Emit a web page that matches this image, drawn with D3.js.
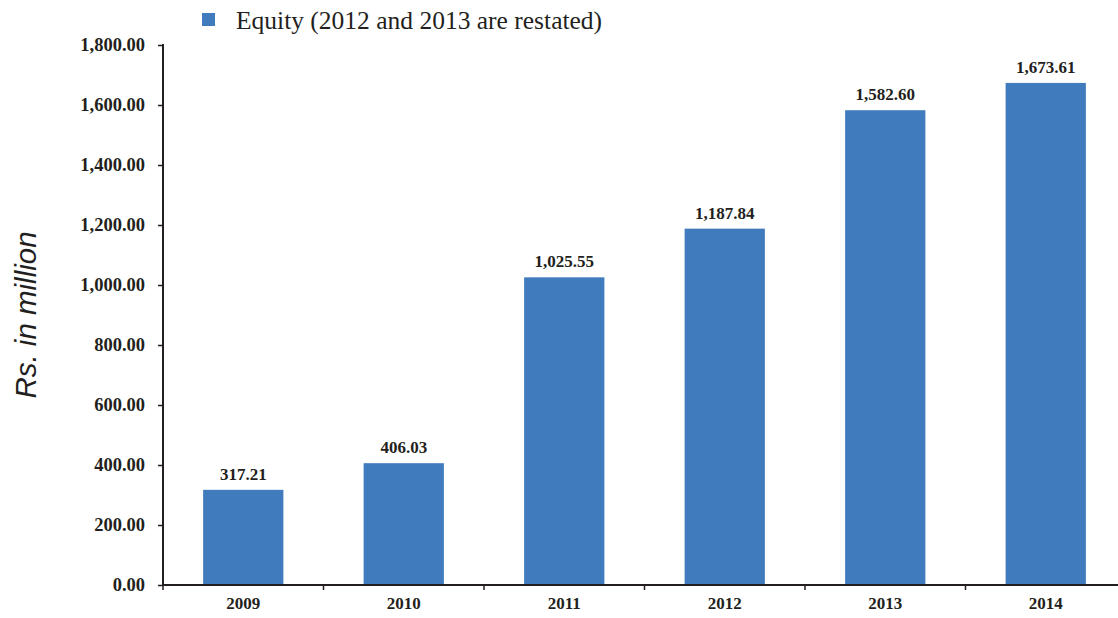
<!DOCTYPE html>
<html><head>
<meta charset="utf-8">
<script src="https://d3js.org/d3.v7.min.js"></script>
<style>
  body { margin: 0; background: #fff; }
  svg { display: block; }
  .tick text { font-family: "Liberation Serif", "Times New Roman", serif; font-weight: bold; font-size: 18.5px; fill: #231f20; }
</style>
</head>
<body>
<svg id="chart" width="1118" height="618"></svg>
<script>
// data
let years = ["2009", "2010", "2011", "2012", "2013", "2014"];
let equity = [317.21, 406.03, 1025.55, 1187.84, 1582.60, 1673.61];
let yTicks = [0, 200, 400, 600, 800, 1000, 1200, 1400, 1600, 1800];
let legendLabel = "Equity (2012 and 2013 are restated)";

let svg = d3.select("#chart");
let ink = "#231f20";
let blue = "#3f7bbd";

let plotLeft = 163, plotRight = 1126, plotTop = 45, plotBottom = 585;

let x = d3.scaleBand().domain(years).range([plotLeft, plotRight]).paddingInner(0.5).paddingOuter(0.25);
let y = d3.scaleLinear().domain([0, 1800]).range([plotBottom, plotTop]);

let fmt = d3.format(",.2f");

// bars
svg.selectAll("rect.bar")
  .data(equity)
  .enter().append("rect")
    .attr("class", "bar")
    .attr("x", (d, i) => x(years[i]))
    .attr("y", d => y(d))
    .attr("width", x.bandwidth())
    .attr("height", d => plotBottom - y(d))
    .style("fill", blue);

// value labels
svg.selectAll("text.val")
  .data(equity)
  .enter().append("text")
    .attr("class", "val")
    .attr("x", (d, i) => x(years[i]) + x.bandwidth() / 2)
    .attr("y", d => y(d) - 10)
    .attr("text-anchor", "middle")
    .style("font-family", "'Liberation Serif', serif")
    .style("font-weight", "bold")
    .style("font-size", "17px")
    .style("fill", ink)
    .text(d => fmt(d));

// y axis
let yAxis = svg.append("g")
  .attr("transform", "translate(" + plotLeft + ",0)")
  .call(d3.axisLeft(y).tickValues(yTicks).tickFormat(fmt).tickSize(5).tickPadding(13));
yAxis.select(".domain").attr("stroke", ink).attr("stroke-width", 2).attr("d", "M0," + (plotTop - 1) + "V" + plotBottom);
yAxis.selectAll(".tick line").attr("stroke", ink).attr("stroke-width", 1.5);
yAxis.selectAll(".tick text").attr("dy", "0.3em");

// x axis: ticks sit at band boundaries
let xAxis = svg.append("g")
  .attr("transform", "translate(0," + plotBottom + ")")
  .call(d3.axisBottom(x).tickSize(0).tickPadding(12));
xAxis.select(".domain").attr("stroke", ink).attr("stroke-width", 2).attr("d", "M" + plotLeft + ",0H" + plotRight);
xAxis.selectAll(".tick text").attr("dy", "0.71em").style("font-size", "17px");

let step = x.step();
let bounds = d3.range(years.length + 1).map(i => plotLeft + i * step);
svg.selectAll("line.xt")
  .data(bounds)
  .enter().append("line")
    .attr("class", "xt")
    .attr("x1", d => d).attr("x2", d => d)
    .attr("y1", plotBottom).attr("y2", plotBottom + 5)
    .attr("stroke", ink).attr("stroke-width", 1.5);

// y title
svg.append("text")
  .attr("transform", "translate(36,315) rotate(-90)")
  .attr("text-anchor", "middle")
  .style("font-family", "'Liberation Sans', Arial, sans-serif")
  .style("font-style", "italic")
  .style("font-size", "29.5px")
  .style("fill", ink)
  .text("Rs. in million");

// legend
svg.append("rect")
  .attr("x", 202).attr("y", 13).attr("width", 13).attr("height", 13)
  .style("fill", blue);
svg.append("text")
  .attr("x", 236).attr("y", 29)
  .style("font-family", "'Liberation Serif', serif")
  .style("font-size", "25.5px")
  .style("fill", ink)
  .text(legendLabel);
</script>
</body>
</html>
